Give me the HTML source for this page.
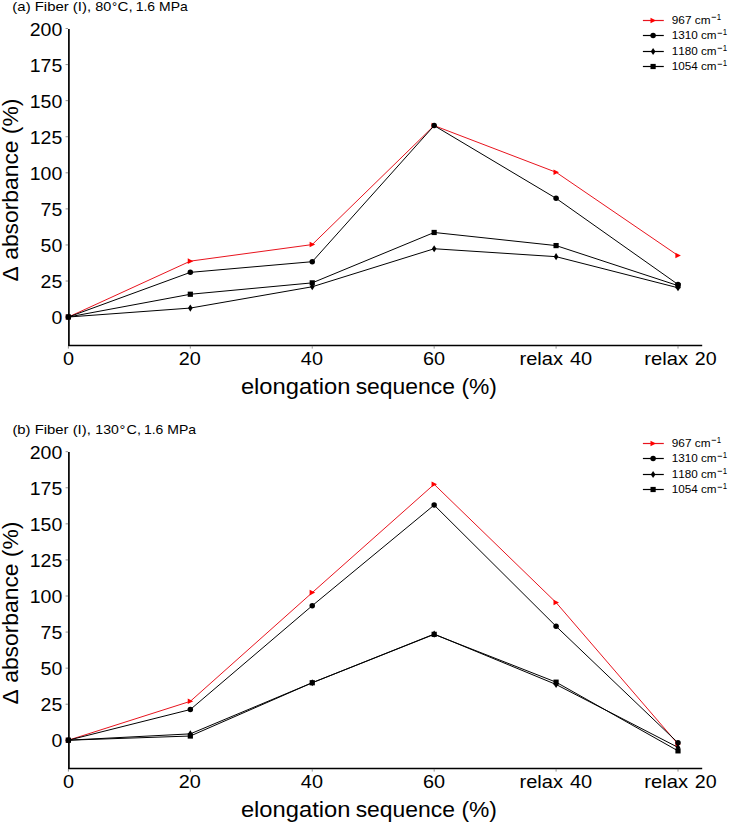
<!DOCTYPE html>
<html><head><meta charset="utf-8"><title>Δ absorbance vs elongation sequence</title>
<style>
html,body{margin:0;padding:0;background:#fff;}
body{width:729px;height:822px;overflow:hidden;}
svg{display:block;font-family:"Liberation Sans", sans-serif;font-kerning:none;}
text{fill:#000;}
</style></head><body>
<svg width="729" height="822" viewBox="0 0 729 822">
<rect width="729" height="822" fill="#fff"/>
<text transform="translate(12.37,10.80) scale(1.1306,1)" font-size="13.20">(a) Fiber (I),</text>
<text transform="translate(95.27,10.80) scale(1.0961,1)" font-size="13.20">80</text>
<text transform="translate(111.93,12.30) scale(0.9175,1)" font-size="14.00">°</text>
<text transform="translate(117.53,10.80) scale(1.1460,1)" font-size="13.20">C,</text>
<text transform="translate(135.74,10.80) scale(1.0570,1)" font-size="13.20">1.6 MPa</text>
<text transform="translate(17.60,281.38) rotate(-90) scale(1.0523,1)" font-size="21.7">Δ absorbance (%)</text>
<text transform="translate(240.89,393.90) scale(1.0939,1)" font-size="21.70">elongation</text>
<text transform="translate(355.66,393.90) scale(1.0546,1)" font-size="21.70">sequence</text>
<text transform="translate(461.38,393.90) scale(1.0529,1)" font-size="21.70">(%)</text>
<line x1="68.9" y1="28.90" x2="68.9" y2="345.90" stroke="#000" stroke-width="1.7"/>
<line x1="68.05" y1="345.50" x2="702.2" y2="345.50" stroke="#000" stroke-width="1.4"/>
<line x1="65.6" y1="317.10" x2="68.1" y2="317.10" stroke="#777" stroke-width="0.8"/>
<text transform="translate(51.41,324.20) scale(1.0900,1)" font-size="17.90">0</text>
<line x1="65.6" y1="281.03" x2="68.1" y2="281.03" stroke="#777" stroke-width="0.8"/>
<text transform="translate(40.62,288.13) scale(1.0900,1)" font-size="17.90">25</text>
<line x1="65.6" y1="244.95" x2="68.1" y2="244.95" stroke="#777" stroke-width="0.8"/>
<text transform="translate(40.56,252.05) scale(1.0900,1)" font-size="17.90">50</text>
<line x1="65.6" y1="208.88" x2="68.1" y2="208.88" stroke="#777" stroke-width="0.8"/>
<text transform="translate(40.62,215.97) scale(1.0900,1)" font-size="17.90">75</text>
<line x1="65.6" y1="172.80" x2="68.1" y2="172.80" stroke="#777" stroke-width="0.8"/>
<text transform="translate(29.71,179.90) scale(1.0900,1)" font-size="17.90">100</text>
<line x1="65.6" y1="136.73" x2="68.1" y2="136.73" stroke="#777" stroke-width="0.8"/>
<text transform="translate(29.77,143.83) scale(1.0900,1)" font-size="17.90">125</text>
<line x1="65.6" y1="100.65" x2="68.1" y2="100.65" stroke="#777" stroke-width="0.8"/>
<text transform="translate(29.71,107.75) scale(1.0900,1)" font-size="17.90">150</text>
<line x1="65.6" y1="64.58" x2="68.1" y2="64.58" stroke="#777" stroke-width="0.8"/>
<text transform="translate(29.77,71.68) scale(1.0900,1)" font-size="17.90">175</text>
<line x1="65.6" y1="28.50" x2="68.1" y2="28.50" stroke="#777" stroke-width="0.8"/>
<text transform="translate(29.71,35.60) scale(1.0900,1)" font-size="17.90">200</text>
<line x1="68.40" y1="345.90" x2="68.40" y2="348.60" stroke="#777" stroke-width="0.8"/>
<text transform="translate(62.97,364.60) scale(1.1100,1)" font-size="17.90">0</text>
<line x1="190.32" y1="345.90" x2="190.32" y2="348.60" stroke="#777" stroke-width="0.8"/>
<text transform="translate(178.69,364.60) scale(1.1100,1)" font-size="17.90">20</text>
<line x1="312.24" y1="345.90" x2="312.24" y2="348.60" stroke="#777" stroke-width="0.8"/>
<text transform="translate(300.86,364.60) scale(1.1100,1)" font-size="17.90">40</text>
<line x1="434.16" y1="345.90" x2="434.16" y2="348.60" stroke="#777" stroke-width="0.8"/>
<text transform="translate(422.98,364.60) scale(1.1100,1)" font-size="17.90">60</text>
<line x1="556.08" y1="345.90" x2="556.08" y2="348.60" stroke="#777" stroke-width="0.8"/>
<text transform="translate(519.47,364.60) scale(1.1225,1)" font-size="17.90">relax</text>
<text transform="translate(569.94,364.60) scale(1.1170,1)" font-size="17.90">40</text>
<line x1="678.00" y1="345.90" x2="678.00" y2="348.60" stroke="#777" stroke-width="0.8"/>
<text transform="translate(644.26,364.60) scale(1.1278,1)" font-size="17.90">relax</text>
<text transform="translate(694.71,364.60) scale(1.0977,1)" font-size="17.90">20</text>
<polyline points="68.40,317.00 190.32,261.13 312.24,244.57 434.16,125.62 556.08,172.28 678.00,255.51" fill="none" stroke="#e8141e" stroke-width="1.0" stroke-linejoin="round"/>
<path d="M71.30,317.00 L65.80,314.20 L65.80,319.80 Z" fill="#f00"/>
<path d="M193.22,261.13 L187.72,258.33 L187.72,263.93 Z" fill="#f00"/>
<path d="M315.14,244.57 L309.64,241.77 L309.64,247.37 Z" fill="#f00"/>
<path d="M437.06,125.62 L431.56,122.82 L431.56,128.42 Z" fill="#f00"/>
<path d="M558.98,172.28 L553.48,169.48 L553.48,175.08 Z" fill="#f00"/>
<path d="M680.90,255.51 L675.40,252.71 L675.40,258.31 Z" fill="#f00"/>
<polyline points="68.40,317.00 190.32,272.36 312.24,261.70 434.16,125.62 556.08,198.34 678.00,284.46" fill="none" stroke="#000" stroke-width="1.0" stroke-linejoin="round"/>
<circle cx="68.40" cy="317.00" r="2.75" fill="#000"/>
<circle cx="190.32" cy="272.36" r="2.75" fill="#000"/>
<circle cx="312.24" cy="261.70" r="2.75" fill="#000"/>
<circle cx="434.16" cy="125.62" r="2.75" fill="#000"/>
<circle cx="556.08" cy="198.34" r="2.75" fill="#000"/>
<circle cx="678.00" cy="284.46" r="2.75" fill="#000"/>
<polyline points="68.40,317.00 190.32,308.07 312.24,286.76 434.16,248.74 556.08,256.66 678.00,287.77" fill="none" stroke="#000" stroke-width="1.0" stroke-linejoin="round"/>
<path d="M68.40,313.40 L70.70,317.00 L68.40,320.60 L66.10,317.00 Z" fill="#000"/>
<path d="M190.32,304.47 L192.62,308.07 L190.32,311.67 L188.02,308.07 Z" fill="#000"/>
<path d="M312.24,283.16 L314.54,286.76 L312.24,290.36 L309.94,286.76 Z" fill="#000"/>
<path d="M434.16,245.14 L436.46,248.74 L434.16,252.34 L431.86,248.74 Z" fill="#000"/>
<path d="M556.08,253.06 L558.38,256.66 L556.08,260.26 L553.78,256.66 Z" fill="#000"/>
<path d="M678.00,284.17 L680.30,287.77 L678.00,291.37 L675.70,287.77 Z" fill="#000"/>
<polyline points="68.40,317.00 190.32,294.25 312.24,282.87 434.16,232.47 556.08,245.58 678.00,285.61" fill="none" stroke="#000" stroke-width="1.0" stroke-linejoin="round"/>
<rect x="65.80" y="314.40" width="5.2" height="5.2" fill="#000"/>
<rect x="187.72" y="291.65" width="5.2" height="5.2" fill="#000"/>
<rect x="309.64" y="280.27" width="5.2" height="5.2" fill="#000"/>
<rect x="431.56" y="229.87" width="5.2" height="5.2" fill="#000"/>
<rect x="553.48" y="242.98" width="5.2" height="5.2" fill="#000"/>
<rect x="675.40" y="283.01" width="5.2" height="5.2" fill="#000"/>
<line x1="642.9" y1="20.50" x2="663.8" y2="20.50" stroke="#e8141e" stroke-width="1.2"/>
<path d="M656.00,20.50 L650.50,17.70 L650.50,23.30 Z" fill="#f00"/>
<text transform="translate(671.80,23.70) scale(1.1157,1)" font-size="10.60">967 cm</text>
<text transform="translate(710.95,21.48) scale(0.7547,1)" font-size="12.00">−</text>
<text transform="translate(716.70,20.00) scale(0.9501,1)" font-size="8.30">1</text>
<line x1="642.9" y1="35.50" x2="663.8" y2="35.50" stroke="#000" stroke-width="1.2"/>
<circle cx="653.10" cy="35.50" r="2.75" fill="#000"/>
<text transform="translate(671.71,39.10) scale(1.1060,1)" font-size="10.60">1310 cm</text>
<text transform="translate(717.05,36.88) scale(0.7547,1)" font-size="12.00">−</text>
<text transform="translate(722.80,35.40) scale(0.9501,1)" font-size="8.30">1</text>
<line x1="642.9" y1="51.50" x2="663.8" y2="51.50" stroke="#000" stroke-width="1.2"/>
<path d="M653.10,47.90 L655.40,51.50 L653.10,55.10 L650.80,51.50 Z" fill="#000"/>
<text transform="translate(671.71,54.50) scale(1.1060,1)" font-size="10.60">1180 cm</text>
<text transform="translate(717.05,52.28) scale(0.7547,1)" font-size="12.00">−</text>
<text transform="translate(722.80,50.80) scale(0.9501,1)" font-size="8.30">1</text>
<line x1="642.9" y1="66.50" x2="663.8" y2="66.50" stroke="#000" stroke-width="1.2"/>
<rect x="650.50" y="63.90" width="5.2" height="5.2" fill="#000"/>
<text transform="translate(671.71,69.90) scale(1.1060,1)" font-size="10.60">1054 cm</text>
<text transform="translate(717.05,67.68) scale(0.7547,1)" font-size="12.00">−</text>
<text transform="translate(722.80,66.20) scale(0.9501,1)" font-size="8.30">1</text>
<text transform="translate(12.38,433.80) scale(1.1262,1)" font-size="13.20">(b) Fiber (I),</text>
<text transform="translate(95.33,433.80) scale(1.0682,1)" font-size="13.20">130</text>
<text transform="translate(119.53,435.30) scale(1.0449,1)" font-size="14.00">°</text>
<text transform="translate(126.47,433.80) scale(1.0931,1)" font-size="13.20">C,</text>
<text transform="translate(143.93,433.80) scale(1.0612,1)" font-size="13.20">1.6 MPa</text>
<text transform="translate(17.60,704.38) rotate(-90) scale(1.0523,1)" font-size="21.7">Δ absorbance (%)</text>
<text transform="translate(240.89,816.90) scale(1.0939,1)" font-size="21.70">elongation</text>
<text transform="translate(355.66,816.90) scale(1.0546,1)" font-size="21.70">sequence</text>
<text transform="translate(461.38,816.90) scale(1.0529,1)" font-size="21.70">(%)</text>
<line x1="68.9" y1="452.10" x2="68.9" y2="769.10" stroke="#000" stroke-width="1.7"/>
<line x1="68.05" y1="768.50" x2="702.2" y2="768.50" stroke="#000" stroke-width="1.4"/>
<line x1="65.6" y1="740.30" x2="68.1" y2="740.30" stroke="#777" stroke-width="0.8"/>
<text transform="translate(51.41,747.40) scale(1.0900,1)" font-size="17.90">0</text>
<line x1="65.6" y1="704.22" x2="68.1" y2="704.22" stroke="#777" stroke-width="0.8"/>
<text transform="translate(40.62,711.32) scale(1.0900,1)" font-size="17.90">25</text>
<line x1="65.6" y1="668.15" x2="68.1" y2="668.15" stroke="#777" stroke-width="0.8"/>
<text transform="translate(40.56,675.25) scale(1.0900,1)" font-size="17.90">50</text>
<line x1="65.6" y1="632.07" x2="68.1" y2="632.07" stroke="#777" stroke-width="0.8"/>
<text transform="translate(40.62,639.17) scale(1.0900,1)" font-size="17.90">75</text>
<line x1="65.6" y1="596.00" x2="68.1" y2="596.00" stroke="#777" stroke-width="0.8"/>
<text transform="translate(29.71,603.10) scale(1.0900,1)" font-size="17.90">100</text>
<line x1="65.6" y1="559.92" x2="68.1" y2="559.92" stroke="#777" stroke-width="0.8"/>
<text transform="translate(29.77,567.02) scale(1.0900,1)" font-size="17.90">125</text>
<line x1="65.6" y1="523.85" x2="68.1" y2="523.85" stroke="#777" stroke-width="0.8"/>
<text transform="translate(29.71,530.95) scale(1.0900,1)" font-size="17.90">150</text>
<line x1="65.6" y1="487.77" x2="68.1" y2="487.77" stroke="#777" stroke-width="0.8"/>
<text transform="translate(29.77,494.88) scale(1.0900,1)" font-size="17.90">175</text>
<line x1="65.6" y1="451.70" x2="68.1" y2="451.70" stroke="#777" stroke-width="0.8"/>
<text transform="translate(29.71,458.80) scale(1.0900,1)" font-size="17.90">200</text>
<line x1="68.40" y1="768.90" x2="68.40" y2="771.60" stroke="#777" stroke-width="0.8"/>
<text transform="translate(62.97,787.60) scale(1.1100,1)" font-size="17.90">0</text>
<line x1="190.32" y1="768.90" x2="190.32" y2="771.60" stroke="#777" stroke-width="0.8"/>
<text transform="translate(178.69,787.60) scale(1.1100,1)" font-size="17.90">20</text>
<line x1="312.24" y1="768.90" x2="312.24" y2="771.60" stroke="#777" stroke-width="0.8"/>
<text transform="translate(300.86,787.60) scale(1.1100,1)" font-size="17.90">40</text>
<line x1="434.16" y1="768.90" x2="434.16" y2="771.60" stroke="#777" stroke-width="0.8"/>
<text transform="translate(422.98,787.60) scale(1.1100,1)" font-size="17.90">60</text>
<line x1="556.08" y1="768.90" x2="556.08" y2="771.60" stroke="#777" stroke-width="0.8"/>
<text transform="translate(519.47,787.60) scale(1.1225,1)" font-size="17.90">relax</text>
<text transform="translate(569.94,787.60) scale(1.1170,1)" font-size="17.90">40</text>
<line x1="678.00" y1="768.90" x2="678.00" y2="771.60" stroke="#777" stroke-width="0.8"/>
<text transform="translate(644.26,787.60) scale(1.1278,1)" font-size="17.90">relax</text>
<text transform="translate(694.71,787.60) scale(1.0977,1)" font-size="17.90">20</text>
<polyline points="68.40,740.20 190.32,701.32 312.24,592.60 434.16,484.31 556.08,602.54 678.00,744.09" fill="none" stroke="#e8141e" stroke-width="1.0" stroke-linejoin="round"/>
<path d="M71.30,740.20 L65.80,737.40 L65.80,743.00 Z" fill="#f00"/>
<path d="M193.22,701.32 L187.72,698.52 L187.72,704.12 Z" fill="#f00"/>
<path d="M315.14,592.60 L309.64,589.80 L309.64,595.40 Z" fill="#f00"/>
<path d="M437.06,484.31 L431.56,481.51 L431.56,487.11 Z" fill="#f00"/>
<path d="M558.98,602.54 L553.48,599.74 L553.48,605.34 Z" fill="#f00"/>
<path d="M680.90,744.09 L675.40,741.29 L675.40,746.89 Z" fill="#f00"/>
<polyline points="68.40,740.20 190.32,709.53 312.24,605.70 434.16,505.05 556.08,626.30 678.00,742.79" fill="none" stroke="#000" stroke-width="1.0" stroke-linejoin="round"/>
<circle cx="68.40" cy="740.20" r="2.75" fill="#000"/>
<circle cx="190.32" cy="709.53" r="2.75" fill="#000"/>
<circle cx="312.24" cy="605.70" r="2.75" fill="#000"/>
<circle cx="434.16" cy="505.05" r="2.75" fill="#000"/>
<circle cx="556.08" cy="626.30" r="2.75" fill="#000"/>
<circle cx="678.00" cy="742.79" r="2.75" fill="#000"/>
<polyline points="68.40,740.20 190.32,733.86 312.24,682.74 434.16,634.07 556.08,684.47 678.00,747.40" fill="none" stroke="#000" stroke-width="1.0" stroke-linejoin="round"/>
<path d="M68.40,736.60 L70.70,740.20 L68.40,743.80 L66.10,740.20 Z" fill="#000"/>
<path d="M190.32,730.26 L192.62,733.86 L190.32,737.46 L188.02,733.86 Z" fill="#000"/>
<path d="M312.24,679.14 L314.54,682.74 L312.24,686.34 L309.94,682.74 Z" fill="#000"/>
<path d="M434.16,630.47 L436.46,634.07 L434.16,637.67 L431.86,634.07 Z" fill="#000"/>
<path d="M556.08,680.87 L558.38,684.47 L556.08,688.07 L553.78,684.47 Z" fill="#000"/>
<path d="M678.00,743.80 L680.30,747.40 L678.00,751.00 L675.70,747.40 Z" fill="#000"/>
<polyline points="68.40,740.20 190.32,736.02 312.24,682.74 434.16,634.36 556.08,682.17 678.00,750.86" fill="none" stroke="#000" stroke-width="1.0" stroke-linejoin="round"/>
<rect x="65.80" y="737.60" width="5.2" height="5.2" fill="#000"/>
<rect x="187.72" y="733.42" width="5.2" height="5.2" fill="#000"/>
<rect x="309.64" y="680.14" width="5.2" height="5.2" fill="#000"/>
<rect x="431.56" y="631.76" width="5.2" height="5.2" fill="#000"/>
<rect x="553.48" y="679.57" width="5.2" height="5.2" fill="#000"/>
<rect x="675.40" y="748.26" width="5.2" height="5.2" fill="#000"/>
<line x1="642.9" y1="443.50" x2="663.8" y2="443.50" stroke="#e8141e" stroke-width="1.2"/>
<path d="M656.00,443.50 L650.50,440.70 L650.50,446.30 Z" fill="#f00"/>
<text transform="translate(671.80,446.70) scale(1.1157,1)" font-size="10.60">967 cm</text>
<text transform="translate(710.95,444.48) scale(0.7547,1)" font-size="12.00">−</text>
<text transform="translate(716.70,443.00) scale(0.9501,1)" font-size="8.30">1</text>
<line x1="642.9" y1="458.50" x2="663.8" y2="458.50" stroke="#000" stroke-width="1.2"/>
<circle cx="653.10" cy="458.50" r="2.75" fill="#000"/>
<text transform="translate(671.71,462.10) scale(1.1060,1)" font-size="10.60">1310 cm</text>
<text transform="translate(717.05,459.88) scale(0.7547,1)" font-size="12.00">−</text>
<text transform="translate(722.80,458.40) scale(0.9501,1)" font-size="8.30">1</text>
<line x1="642.9" y1="474.50" x2="663.8" y2="474.50" stroke="#000" stroke-width="1.2"/>
<path d="M653.10,470.90 L655.40,474.50 L653.10,478.10 L650.80,474.50 Z" fill="#000"/>
<text transform="translate(671.71,477.50) scale(1.1060,1)" font-size="10.60">1180 cm</text>
<text transform="translate(717.05,475.28) scale(0.7547,1)" font-size="12.00">−</text>
<text transform="translate(722.80,473.80) scale(0.9501,1)" font-size="8.30">1</text>
<line x1="642.9" y1="489.50" x2="663.8" y2="489.50" stroke="#000" stroke-width="1.2"/>
<rect x="650.50" y="486.90" width="5.2" height="5.2" fill="#000"/>
<text transform="translate(671.71,492.90) scale(1.1060,1)" font-size="10.60">1054 cm</text>
<text transform="translate(717.05,490.68) scale(0.7547,1)" font-size="12.00">−</text>
<text transform="translate(722.80,489.20) scale(0.9501,1)" font-size="8.30">1</text>
</svg>
</body></html>
